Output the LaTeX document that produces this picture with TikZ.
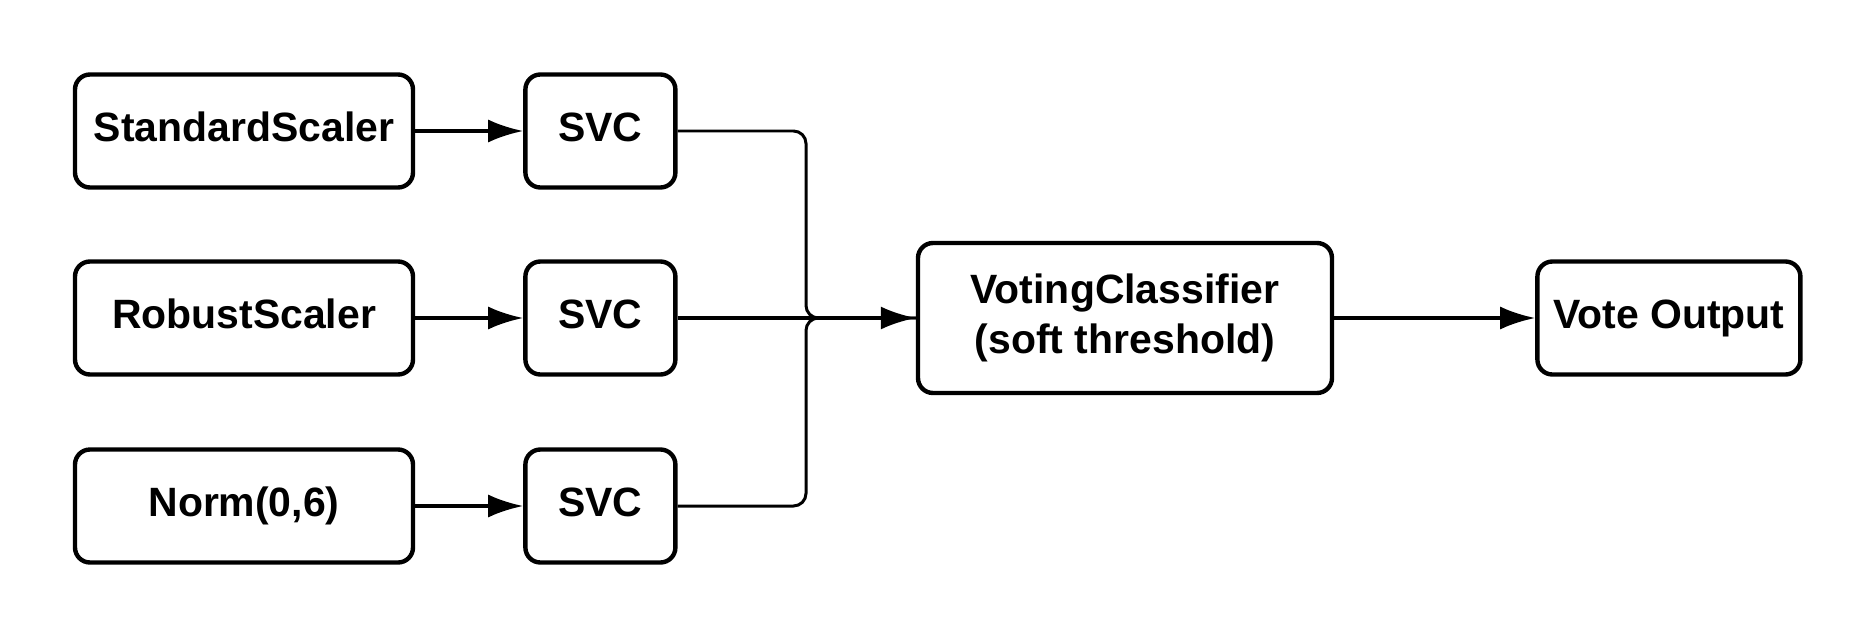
\documentclass[tikz,border=0pt]{standalone}
\usepackage{fontspec}
\setmainfont{Liberation Sans}
\usetikzlibrary{positioning,calc,arrows.meta}
\tikzset{>=Latex}
\tikzset{
  blk/.style={draw,line width=2.5pt,rounded corners=0.3cm,align=center,inner sep=0pt,
    font=\bfseries\fontsize{23.3}{28.5}\selectfont},
  oneline/.style={text height=16.8pt,text depth=4.9pt},
  scaler/.style={blk,oneline,minimum width=6.76cm,minimum height=2.26cm},
  svc/.style={blk,oneline,minimum width=3.0cm,minimum height=2.26cm},
  conn/.style={line width=2pt,-{Latex[length=0.7cm,width=0.46cm]}},
  merge/.style={line width=1.7pt,rounded corners=0.25cm}
}

\begin{document}
\begin{tikzpicture}[node distance=2.16cm]
  \useasboundingbox (0,0) rectangle (37.5,-12.76);
  % scalers and classifiers
  \node[scaler] (ss) at (4.88,-2.62) {StandardScaler};
  \node[scaler] (rs) at (4.88,-6.36) {RobustScaler};
  \node[scaler] (nm) at (4.88,-10.12) {Norm(0,6)};
  \node[svc,right=of ss] (svc1) {SVC};
  \node[svc,right=of rs] (svc2) {SVC};
  \node[svc,right=of nm] (svc3) {SVC};
  % voting
  \node[blk,minimum width=8.28cm,minimum height=3.0cm] (vc) at (22.5,-6.36) {VotingClassifier\\(soft threshold)};
  \node[blk,oneline,minimum width=5.26cm,minimum height=2.26cm,right=4.02cm of vc] (vo) {Vote Output};
  \coordinate (j) at (16.12,-6.36);

  \draw[conn] (ss) -- (svc1);
  \draw[conn] (rs) -- (svc2);
  \draw[conn] (nm) -- (svc3);
  \draw[merge] (svc1.east) -| (j) -- (vc.west);
  \draw[merge] (svc3.east) -| (j) -- (vc.west);
  \draw[conn] (svc2.east) -- (vc.west);
  \draw[conn] (vc) -- (vo);
\end{tikzpicture}
\end{document}
